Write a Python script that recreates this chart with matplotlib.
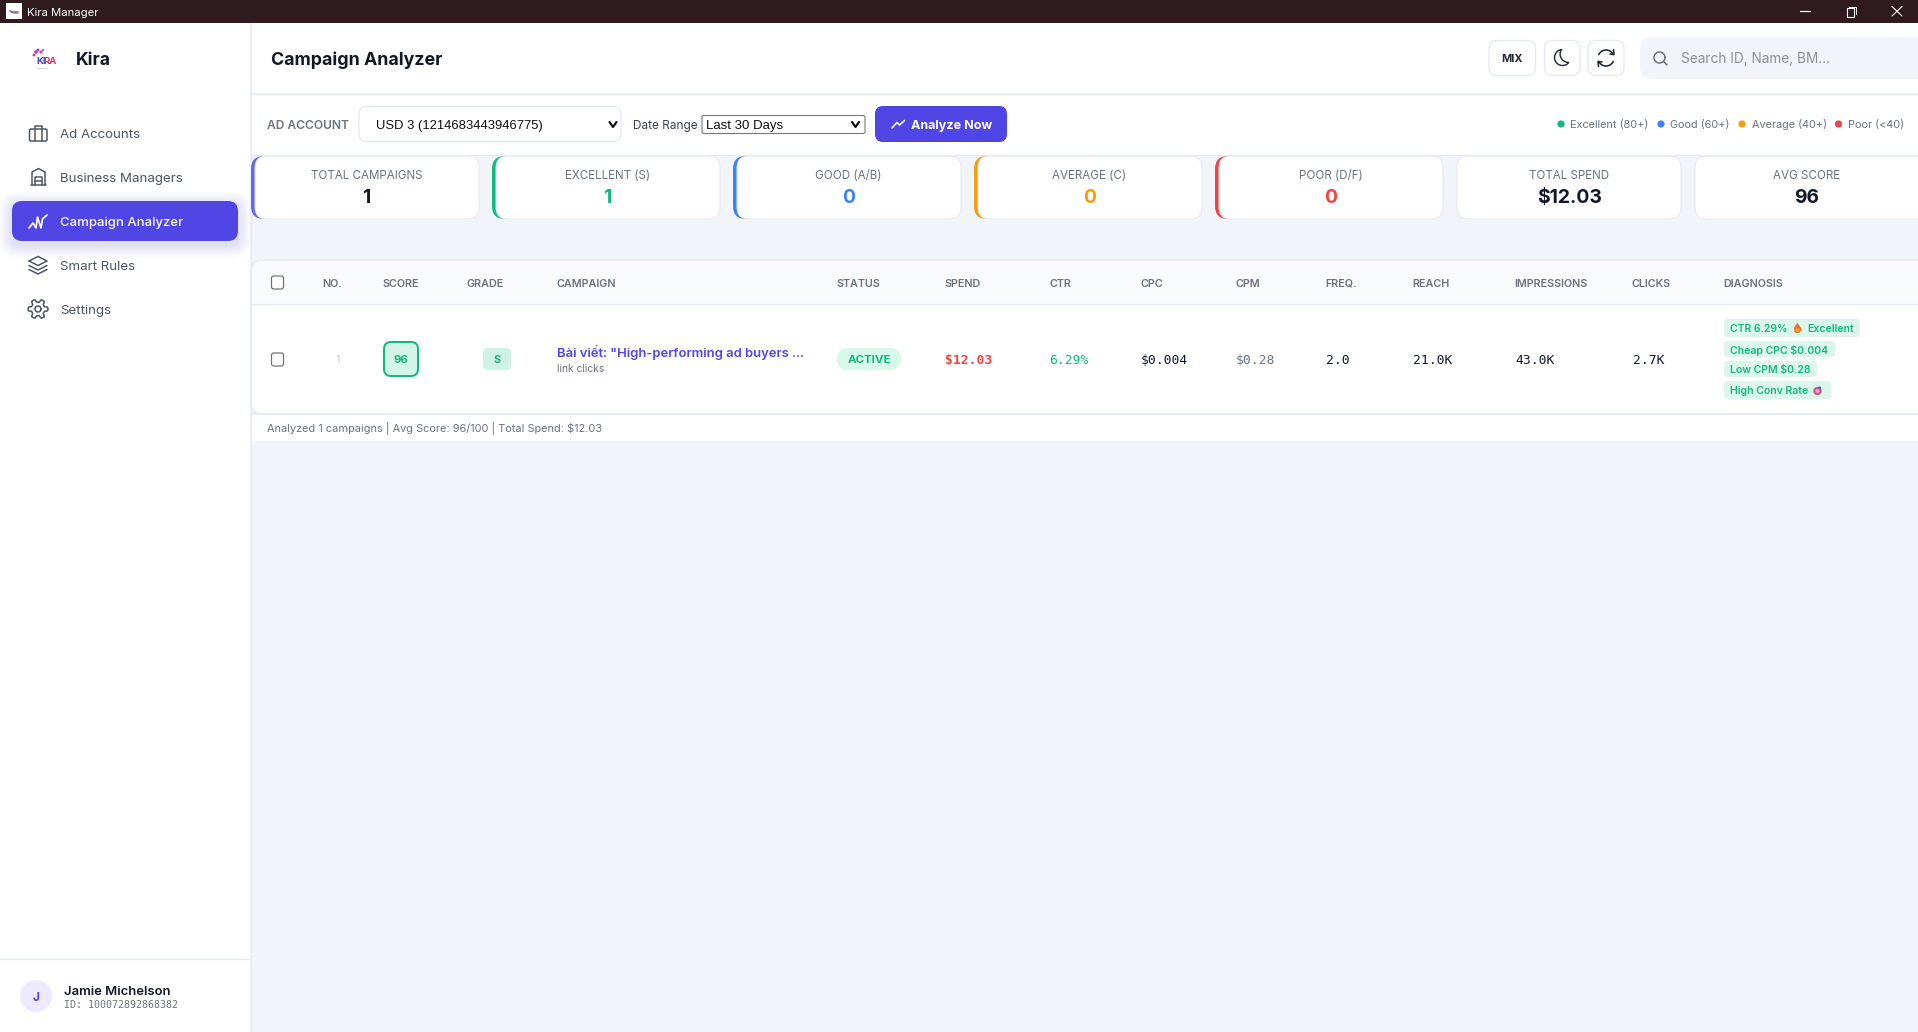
# -*- coding: utf-8 -*-
"""Kira Manager - Campaign Analyzer screen, drawn on a pixel-sized axes."""
import numpy as np
import matplotlib
matplotlib.use('Agg')
import matplotlib.pyplot as plt
from matplotlib.patches import FancyBboxPatch, Circle, Rectangle, Polygon

W, H = 1918, 1032
UI = 'Inter'
MONO = 'DejaVu Sans Mono'
ARIAL = 'Liberation Sans'

BG = '#f1f4f9'
LINE = '#e5e9f1'
INDIGO = '#4f46e5'
GREEN = '#10b981'
BLUE = '#3b82f6'
ORANGE = '#f59e0b'
RED = '#ef4444'
INK = '#111827'
GRAY = '#6b7280'

NAV_ITEMS = ['Ad Accounts', 'Business Managers', 'Campaign Analyzer', 'Smart Rules', 'Settings']
NAV_Y = [133, 177, 221, 265, 309]

LEGEND_LABELS = ['Excellent (80+)', 'Good (60+)', 'Average (40+)', 'Poor (<40)']
LEGEND_COLORS = [GREEN, BLUE, ORANGE, RED]
LEGEND_X = [1561, 1661, 1742, 1838.5]

CARD_LABELS = ['TOTAL CAMPAIGNS', 'EXCELLENT (S)', 'GOOD (A/B)', 'AVERAGE (C)', 'POOR (D/F)',
               'TOTAL SPEND', 'AVG SCORE']
CARD_VALUES = ['1', '1', '0', '0', '0', '$12.03', '96']
CARD_VALUE_COLORS = [INK, GREEN, BLUE, ORANGE, RED, INK, INK]
CARD_ACCENTS = ['#6366f1', GREEN, BLUE, ORANGE, RED, None, None]
CARD_X0 = [251, 492, 733, 974, 1215, 1457, 1695]
CARD_X1 = [479, 720, 961, 1202, 1443, 1681, 1930]
CARD_CX = [366.5, 607.5, 848.5, 1089.5, 1330.5, 1569.5, 1807]

COLUMNS = ['NO.', 'SCORE', 'GRADE', 'CAMPAIGN', 'STATUS', 'SPEND', 'CTR', 'CPC', 'CPM',
           'FREQ.', 'REACH', 'IMPRESSIONS', 'CLICKS', 'DIAGNOSIS']
COLUMN_X = [322, 382.5, 466.5, 556.5, 836.5, 944.5, 1049.5, 1140.5, 1235, 1325.5, 1412.5, 1514.5, 1632, 1723]

ROW_METRICS = ['$12.03', '6.29%', '$0.004', '$0.28', '2.0', '21.0K', '43.0K', '2.7K']
METRIC_COLORS = [RED, GREEN, INK, GRAY, INK, INK, INK, INK]
METRIC_X = [945, 1049.5, 1141, 1236, 1326, 1413, 1515, 1633]

TAG_LABELS = ['CTR 6.29%', 'Cheap CPC $0.004', 'Low CPM $0.28', 'High Conv Rate']
TAG_X1 = [1860, 1835, 1817, 1831]
TAG_Y0 = [319, 341, 361, 381]
TAG_Y1 = [337, 357, 377, 399]

fig = plt.figure(figsize=(W / 100, H / 100), dpi=100, facecolor=BG)
ax = fig.add_axes([0, 0, 1, 1])
ax.set_xlim(0, W)
ax.set_ylim(H, 0)
ax.axis('off')


def txt(x, y, s, px, color=INK, weight='normal', ha='left', family=UI, z=5):
    return ax.text(x, y - 0.8, s, fontsize=px * 0.72, color=color, fontweight=weight, ha=ha,
                   va='center_baseline', family=family, zorder=z)


def box(x0, y0, x1, y1, r=0, fc='white', ec='none', lw=1.0, z=2, alpha=None):
    p = FancyBboxPatch((x0, y0), x1 - x0, y1 - y0, boxstyle=f'round,pad=0,rounding_size={r}',
                       fc=fc, ec=ec, lw=lw * 0.72, zorder=z, alpha=alpha)
    ax.add_patch(p)
    return p


def line(xs, ys, color=INK, lw=1.5, z=6):
    ax.plot(xs, ys, color=color, lw=lw * 0.72, zorder=z, solid_capstyle='round',
            solid_joinstyle='round')


def arc(cx, cy, r, a0, a1, color=INK, lw=1.5):
    t = np.radians(np.linspace(a0, a1, 40))
    line(cx + r * np.cos(t), cy + r * np.sin(t), color, lw)


def chevron(cx, cy, w=3.5, h=2.5, color='#111111', lw=2.2):
    line([cx - w, cx, cx + w], [cy - h, cy + h, cy - h], color, lw)


# window frame ------------------------------------------------------------
ax.add_patch(Rectangle((0, 0), W, 23, fc='#2f1a20', ec='none', zorder=3))
ax.add_patch(Rectangle((6, 3), 16, 16, fc='white', ec='none', zorder=4))
line([10, 13, 18], [11, 12, 12], '#c678b0', 2)
line([11, 14, 18], [12, 13, 13], '#4a72c8', 1.2)
txt(27, 12.5, 'Kira Manager', 11.3, 'white')
line([1800, 1810], [11, 11], 'white', 1.2)
ax.add_patch(Rectangle((1846.5, 8), 7, 8.5, fc='none', ec='white', lw=0.8, zorder=6))
line([1848.5, 1848.5, 1855.5, 1855.5], [8, 6.5, 6.5, 14], 'white', 0.9)
line([1892, 1902], [6.5, 16], 'white', 1.1)
line([1892, 1902], [16, 6.5], 'white', 1.1)

# sidebar -----------------------------------------------------------------
ax.add_patch(Rectangle((0, 23), 250, H - 23, fc='white', ec='none', zorder=1))
line([250.5, 250.5], [23, H], LINE, 1.2, z=2)
txt(76, 59.5, 'Kira', 17.6, INK, 'bold')
# logo
txt(36, 61.5, 'KI', 9.5, '#3348c4', 'bold')
txt(43, 61.5, 'RA', 9.5, '#d9356f', 'bold')
for cx, cy, r, c in zip([36, 38, 41, 34, 43], [52, 50, 52, 55, 50], [1.8, 1.5, 1.6, 1.4, 1.1],
                        ['#d3339a', '#8a4fd6', '#e8407a', '#c0308e', '#7b5ce0']):
    ax.add_patch(Circle((cx, cy), r, fc=c, ec='none', zorder=6))
line([37, 46], [68, 68], '#d9d4dc', 1)

for i in range(10):
    grow = 10 - i
    box(12 - grow * 1.3, 201 + 4 - grow * 1.3, 238 + grow * 1.3, 241 + 4 + grow * 1.3, 10 + grow,
        fc=INDIGO, alpha=0.014, z=2)
box(12, 201, 238, 241, 10, fc=INDIGO, z=3)
for label, y in zip(NAV_ITEMS, NAV_Y):
    active = label == 'Campaign Analyzer'
    txt(60, y + 0.9, label, 13.1 if active else 13.3, 'white' if active else '#4b5563',
        'medium' if active else 'normal')

ic = '#4b5563'
# briefcase
box(29.5, 129, 47, 141, 1.5, fc='none', ec=ic, lw=1.5, z=6)
line([34.5, 34.5, 41.5, 41.5], [141, 125.5, 125.5, 141], ic)
# building
line([31, 46], [185, 185], ic)
line([32, 32, 38.5, 45, 45], [185, 172, 168.5, 172, 185], ic)
line([35, 35, 42, 42], [185, 176.5, 176.5, 185], ic)
line([35, 42], [181, 181], ic)
# chart
line([29, 33, 36, 37.5, 41, 42.5, 47], [228, 223, 228, 217, 228, 219, 215], 'white', 1.7)
# layers
line([29, 38, 47, 38, 29], [261, 256.5, 261, 265.5, 261], ic)
line([29, 38, 47], [265.5, 270, 265.5], ic)
line([29, 38, 47], [269.5, 274, 269.5], ic)
# gear
t = np.radians(np.arange(0, 361, 3))
rr = 8.3 + 1.5 * np.clip(np.cos(6 * t) * 2.5, -1, 1)
line(38 + rr * np.cos(t), 309 + rr * np.sin(t), ic)
arc(38, 309, 3, 0, 360, ic)

line([0, 250], [959, 959], LINE, 1.2, z=2)
ax.add_patch(Circle((36, 996), 16, fc='#ede9fe', ec='none', zorder=3))
txt(36, 997, 'J', 12, INDIGO, 'bold', ha='center')
txt(64, 991, 'Jamie Michelson', 13, INK, 'semibold')
txt(64, 1005, 'ID: 100072892868382', 10, GRAY, family=MONO)

# top bar -----------------------------------------------------------------
ax.add_patch(Rectangle((251, 23), W - 251, 70, fc='white', ec='none', zorder=1))
line([251, W], [93.5, 93.5], LINE, 1.2, z=2)
txt(271, 59, 'Campaign Analyzer', 17.8, INK, 'bold')
box(1489, 40.5, 1535.5, 75.5, 8, ec=LINE, lw=1.3)
txt(1512, 58.5, 'MIX', 11, '#1f2937', 'bold', ha='center')
box(1544.5, 40.5, 1580, 75.5, 8, ec=LINE, lw=1.3)
box(1588, 40.5, 1624, 75.5, 8, ec=LINE, lw=1.3)
# moon
arc(1562.5, 57.5, 8, 40, 265, '#1f2937', 1.4)
arc(1568.5, 54, 8.4, 90, 212, '#1f2937', 1.4)
# refresh
arc(1606, 58, 8, 205, 335, '#1f2937', 1.6)
arc(1606, 58, 8, 25, 155, '#1f2937', 1.6)
line([1613.5, 1614, 1610], [49.5, 54.5, 54], '#1f2937', 1.6)
line([1598.5, 1598, 1602], [66.5, 61.5, 62], '#1f2937', 1.6)
# search
box(1640, 37, 1935, 79, 12, fc=BG)
arc(1659.5, 57.5, 5.5, 0, 360, '#6b7280', 1.5)
line([1663.5, 1667], [61.5, 65], '#6b7280', 1.5)
txt(1681, 58.5, 'Search ID, Name, BM...', 13.6, '#8a919c')

# toolbar -----------------------------------------------------------------
ax.add_patch(Rectangle((251, 94), W - 251, 61, fc='white', ec='none', zorder=1))
line([251, W], [154.5, 154.5], LINE, 1.2, z=2)
txt(267, 125, 'AD ACCOUNT', 12, GRAY, 'semibold')
box(359, 106.5, 621, 141.5, 8, ec=LINE, lw=1.2)
txt(375.5, 125, 'USD 3 (1214683443946775)', 13.05, '#111111', family=ARIAL)
chevron(613, 124.5)
txt(633, 125.5, 'Date Range', 11.8, '#374151')
box(702, 115.5, 865, 133.5, 2, ec='#767676', lw=1.1)
txt(706.5, 125.5, 'Last 30 Days', 13.3, '#111111', family=ARIAL)
chevron(855.5, 124.5)
box(875, 106, 1007, 142, 8, fc=INDIGO)
line([892, 897, 899.5, 904.5], [128, 122.5, 125, 120.5], 'white', 1.6)
txt(911, 125, 'Analyze Now', 12.6, 'white', 'bold')
for x, c, s in zip(LEGEND_X, LEGEND_COLORS, LEGEND_LABELS):
    ax.add_patch(Circle((x, 124), 3.6, fc=c, ec='none', zorder=5))
    txt(x + 9.5, 124.5, s, 10.9, GRAY)

# summary cards -----------------------------------------------------------
for x0, x1, cx, lab, val, vc, acc in zip(CARD_X0, CARD_X1, CARD_CX, CARD_LABELS, CARD_VALUES,
                                         CARD_VALUE_COLORS, CARD_ACCENTS):
    if acc:
        box(x0, 156, x0 + 30, 219, 13, fc=acc, z=2)
        box(x0 + 4, 156, x1, 219, 12, ec=LINE, lw=1, z=3)
    else:
        box(x0, 156, x1, 219, 12, ec=LINE, lw=1, z=3)
    txt(cx, 175.5, lab, 11.6, GRAY, ha='center')
    txt(cx, 197, val, 19.3, vc, 'bold', ha='center')

# table -------------------------------------------------------------------
ax.add_patch(Rectangle((251, 413), W - 251, 28, fc='white', ec='none', zorder=1))
box(251, 260, 1935, 414, 12, ec=LINE, lw=1.6, z=2)
box(252, 261, 1935, 300, 11, fc='#f8fafc', z=3)
ax.add_patch(Rectangle((252, 285), W - 252, 19, fc='#f8fafc', ec='none', zorder=3))
line([252, W], [304, 304], LINE, 1.3, z=4)
line([251, W], [413.5, 413.5], LINE, 2, z=4)
for cy in (282.5, 359.5):
    box(271.5, cy - 6.5, 283.5, cy + 6.5, 2.2, ec='#6f6f6f', lw=1.2, z=5)
for x, s in zip(COLUMN_X, COLUMNS):
    txt(x, 283.5, s, 10.8, GRAY, 'semibold')

txt(338, 360, '1', 11, '#c6cad1', ha='center')
box(384, 342, 418, 376, 7, fc='#d6f3e8', ec=GREEN, lw=2, z=5)
txt(401, 359.5, '96', 11.5, GREEN, 'bold', ha='center')
box(483, 348, 511, 370, 5, fc='#d0f1e5', z=5)
txt(497, 359.5, 'S', 11, GREEN, 'bold', ha='center')
txt(557, 351.5, 'Bài viết: "High-performing ad buyers ...', 13, INDIGO, 'semibold')
txt(557, 368.5, 'link clicks', 10.3, GRAY)
box(837, 348, 901, 370, 11, fc='#d9f8ea', z=5)
txt(869, 359.5, 'ACTIVE', 11.5, GREEN, 'bold', ha='center')
for i, (x, s, c) in enumerate(zip(METRIC_X, ROW_METRICS, METRIC_COLORS)):
    txt(x, 359.5, s, 13, c, 'bold' if i == 0 else 'normal', family=MONO)

for s, x1, y0, y1 in zip(TAG_LABELS, TAG_X1, TAG_Y0, TAG_Y1):
    box(1724, y0, x1, y1, 4, fc='#dcf6ec', z=5)
    txt(1730, (y0 + y1) / 2 + 0.8, s, 10.5, GREEN, 'semibold', z=6)
txt(1807, 328.8, 'Excellent', 10.5, GREEN, 'semibold', z=6)
# flame + target emoji
ax.add_patch(Polygon([(1794.5, 332), (1794, 328), (1797, 323), (1798, 323.5), (1801, 328), (1801, 331), (1799, 333), (1796, 333)],
                     fc='#ee6f2d', ec='none', zorder=6))
ax.add_patch(Circle((1797.8, 330), 1.6, fc='#f8c24a', ec='none', zorder=7))
ax.add_patch(Circle((1817.5, 391), 4.2, fc='#c85a86', ec='none', zorder=6))
ax.add_patch(Circle((1817.5, 391), 2, fc='#e9a6c0', ec='none', zorder=7))
ax.add_patch(Circle((1819.5, 388), 1.6, fc='#4a74d0', ec='none', zorder=8))

txt(267, 427.5, 'Analyzed 1 campaigns | Avg Score: 96/100 | Total Spend: $12.03', 10.95, GRAY)

fig.savefig('out.png', dpi=100, facecolor=BG)
